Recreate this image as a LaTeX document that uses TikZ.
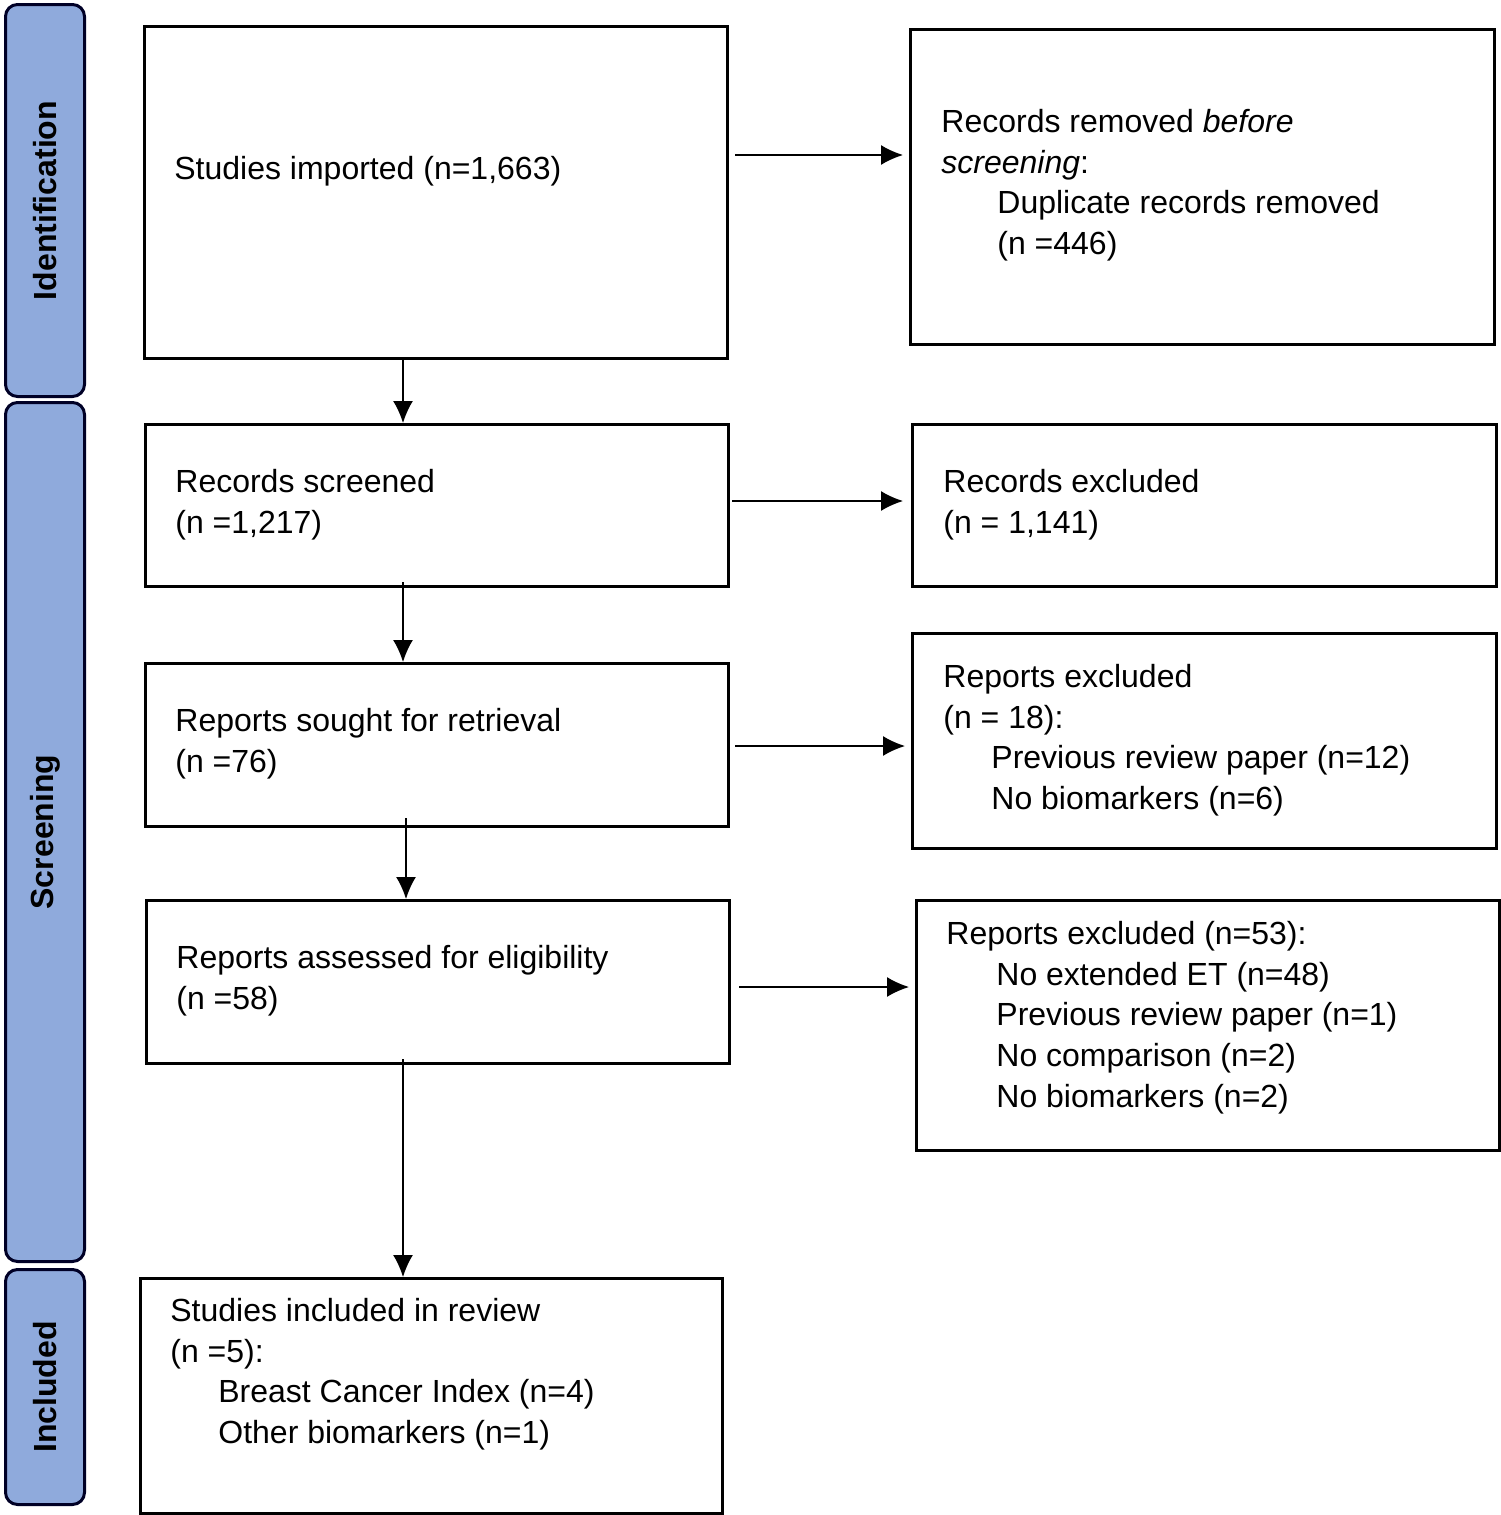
\documentclass[tikz,border=0pt]{standalone}
\usepackage{fontspec}
\setmainfont{Liberation Sans}
\usetikzlibrary{arrows.meta}
\begin{document}
\begin{tikzpicture}[x=0.5pt,y=-0.5pt,
  box/.style={draw=black,line width=1.5pt,anchor=north west,inner sep=0pt},
  txt/.style={anchor=north west,inner sep=0pt,align=left,font=\fontsize{16}{20.3}\selectfont},
  side/.style={draw=black!85!blue,fill=blue!25!cyan!10!white!50!blue!45!white,fill={rgb,255:red,143;green,170;blue,220},line width=1.5pt,rounded corners=6pt,anchor=north west,inner sep=0pt},
  stxt/.style={rotate=90,font=\bfseries\fontsize{16}{20}\selectfont},
  arr/.style={-{Latex[length=11pt,width=10pt]},line width=0.75pt}]
\useasboundingbox (0,0) rectangle (1500,1515);
% side bars
\node[side,minimum width=39.5pt,minimum height=196pt] (s1) at (4,3) {};
\node[side,minimum width=39.5pt,minimum height=429.5pt] (s2) at (4,401) {};
\node[side,minimum width=39.5pt,minimum height=117.5pt] (s3) at (4,1268) {};
\node[stxt] at (s1) {Identification};
\node[stxt] at (s2) {Screening};
\node[stxt] at (s3) {Included};
% boxes
\node[box,minimum width=291.5pt,minimum height=166pt] (A) at (143,25) {};
\node[box,minimum width=292pt,minimum height=157.5pt] (B) at (909,28) {};
\node[box,minimum width=291.5pt,minimum height=81pt] (C) at (144,423) {};
\node[box,minimum width=292pt,minimum height=81pt] (D) at (911,423) {};
\node[box,minimum width=291.5pt,minimum height=81.5pt] (E) at (144,662) {};
\node[box,minimum width=292pt,minimum height=107.5pt] (F) at (911,632) {};
\node[box,minimum width=291.5pt,minimum height=81.5pt] (G) at (145,899) {};
\node[box,minimum width=291.5pt,minimum height=125pt] (H) at (915,899) {};
\node[box,minimum width=291pt,minimum height=117.5pt] (I) at (139,1277) {};
% texts
\node[txt] (tA) at (174,156) {Studies imported (n=1,663)};
\node[txt] (tB) at (941,109) {Records removed \textit{before}\\\textit{screening}:\\\hspace*{28pt}Duplicate records removed\\\hspace*{28pt}(n =446)};
\node[txt] (tC) at (175,469) {Records screened\\(n =1,217)};
\node[txt] (tD) at (943,469) {Records excluded\\(n = 1,141)};
\node[txt] (tE) at (175,708) {Reports sought for retrieval\\(n =76)};
\node[txt] (tF) at (943,664) {Reports excluded\\(n = 18):\\\hspace*{24pt}Previous review paper (n=12)\\\hspace*{24pt}No biomarkers (n=6)};
\node[txt] (tG) at (176,945) {Reports assessed for eligibility\\(n =58)};
\node[txt] (tH) at (946,921) {Reports excluded (n=53):\\\hspace*{25pt}No extended ET (n=48)\\\hspace*{25pt}Previous review paper (n=1)\\\hspace*{25pt}No comparison (n=2)\\\hspace*{25pt}No biomarkers (n=2)};
\node[txt] (tI) at (170,1298) {Studies included in review\\(n =5):\\\hspace*{24pt}Breast Cancer Index (n=4)\\\hspace*{24pt}Other biomarkers (n=1)};
% arrows
\draw[arr] ([xshift=3pt]A.east |- 0,155) -- ([xshift=-3pt]B.west |- 0,155);
\draw[arr] ([xshift=1pt]C.east |- 0,501) -- ([xshift=-4pt]D.west |- 0,501);
\draw[arr] ([xshift=2.5pt]E.east |- 0,746) -- ([xshift=-3pt]F.west |- 0,746);
\draw[arr] ([xshift=4pt]G.east |- 0,987) -- ([xshift=-3pt]H.west |- 0,987);
\draw[arr] (A.south -| 403,0) -- (C.north -| 403,0);
\draw[arr] ([yshift=3pt]C.south -| 403,0) -- (E.north -| 403,0);
\draw[arr] ([yshift=5pt]E.south -| 406,0) -- (G.north -| 406,0);
\draw[arr] ([yshift=3pt]G.south -| 403,0) -- (I.north -| 403,0);
\end{tikzpicture}
\end{document}
